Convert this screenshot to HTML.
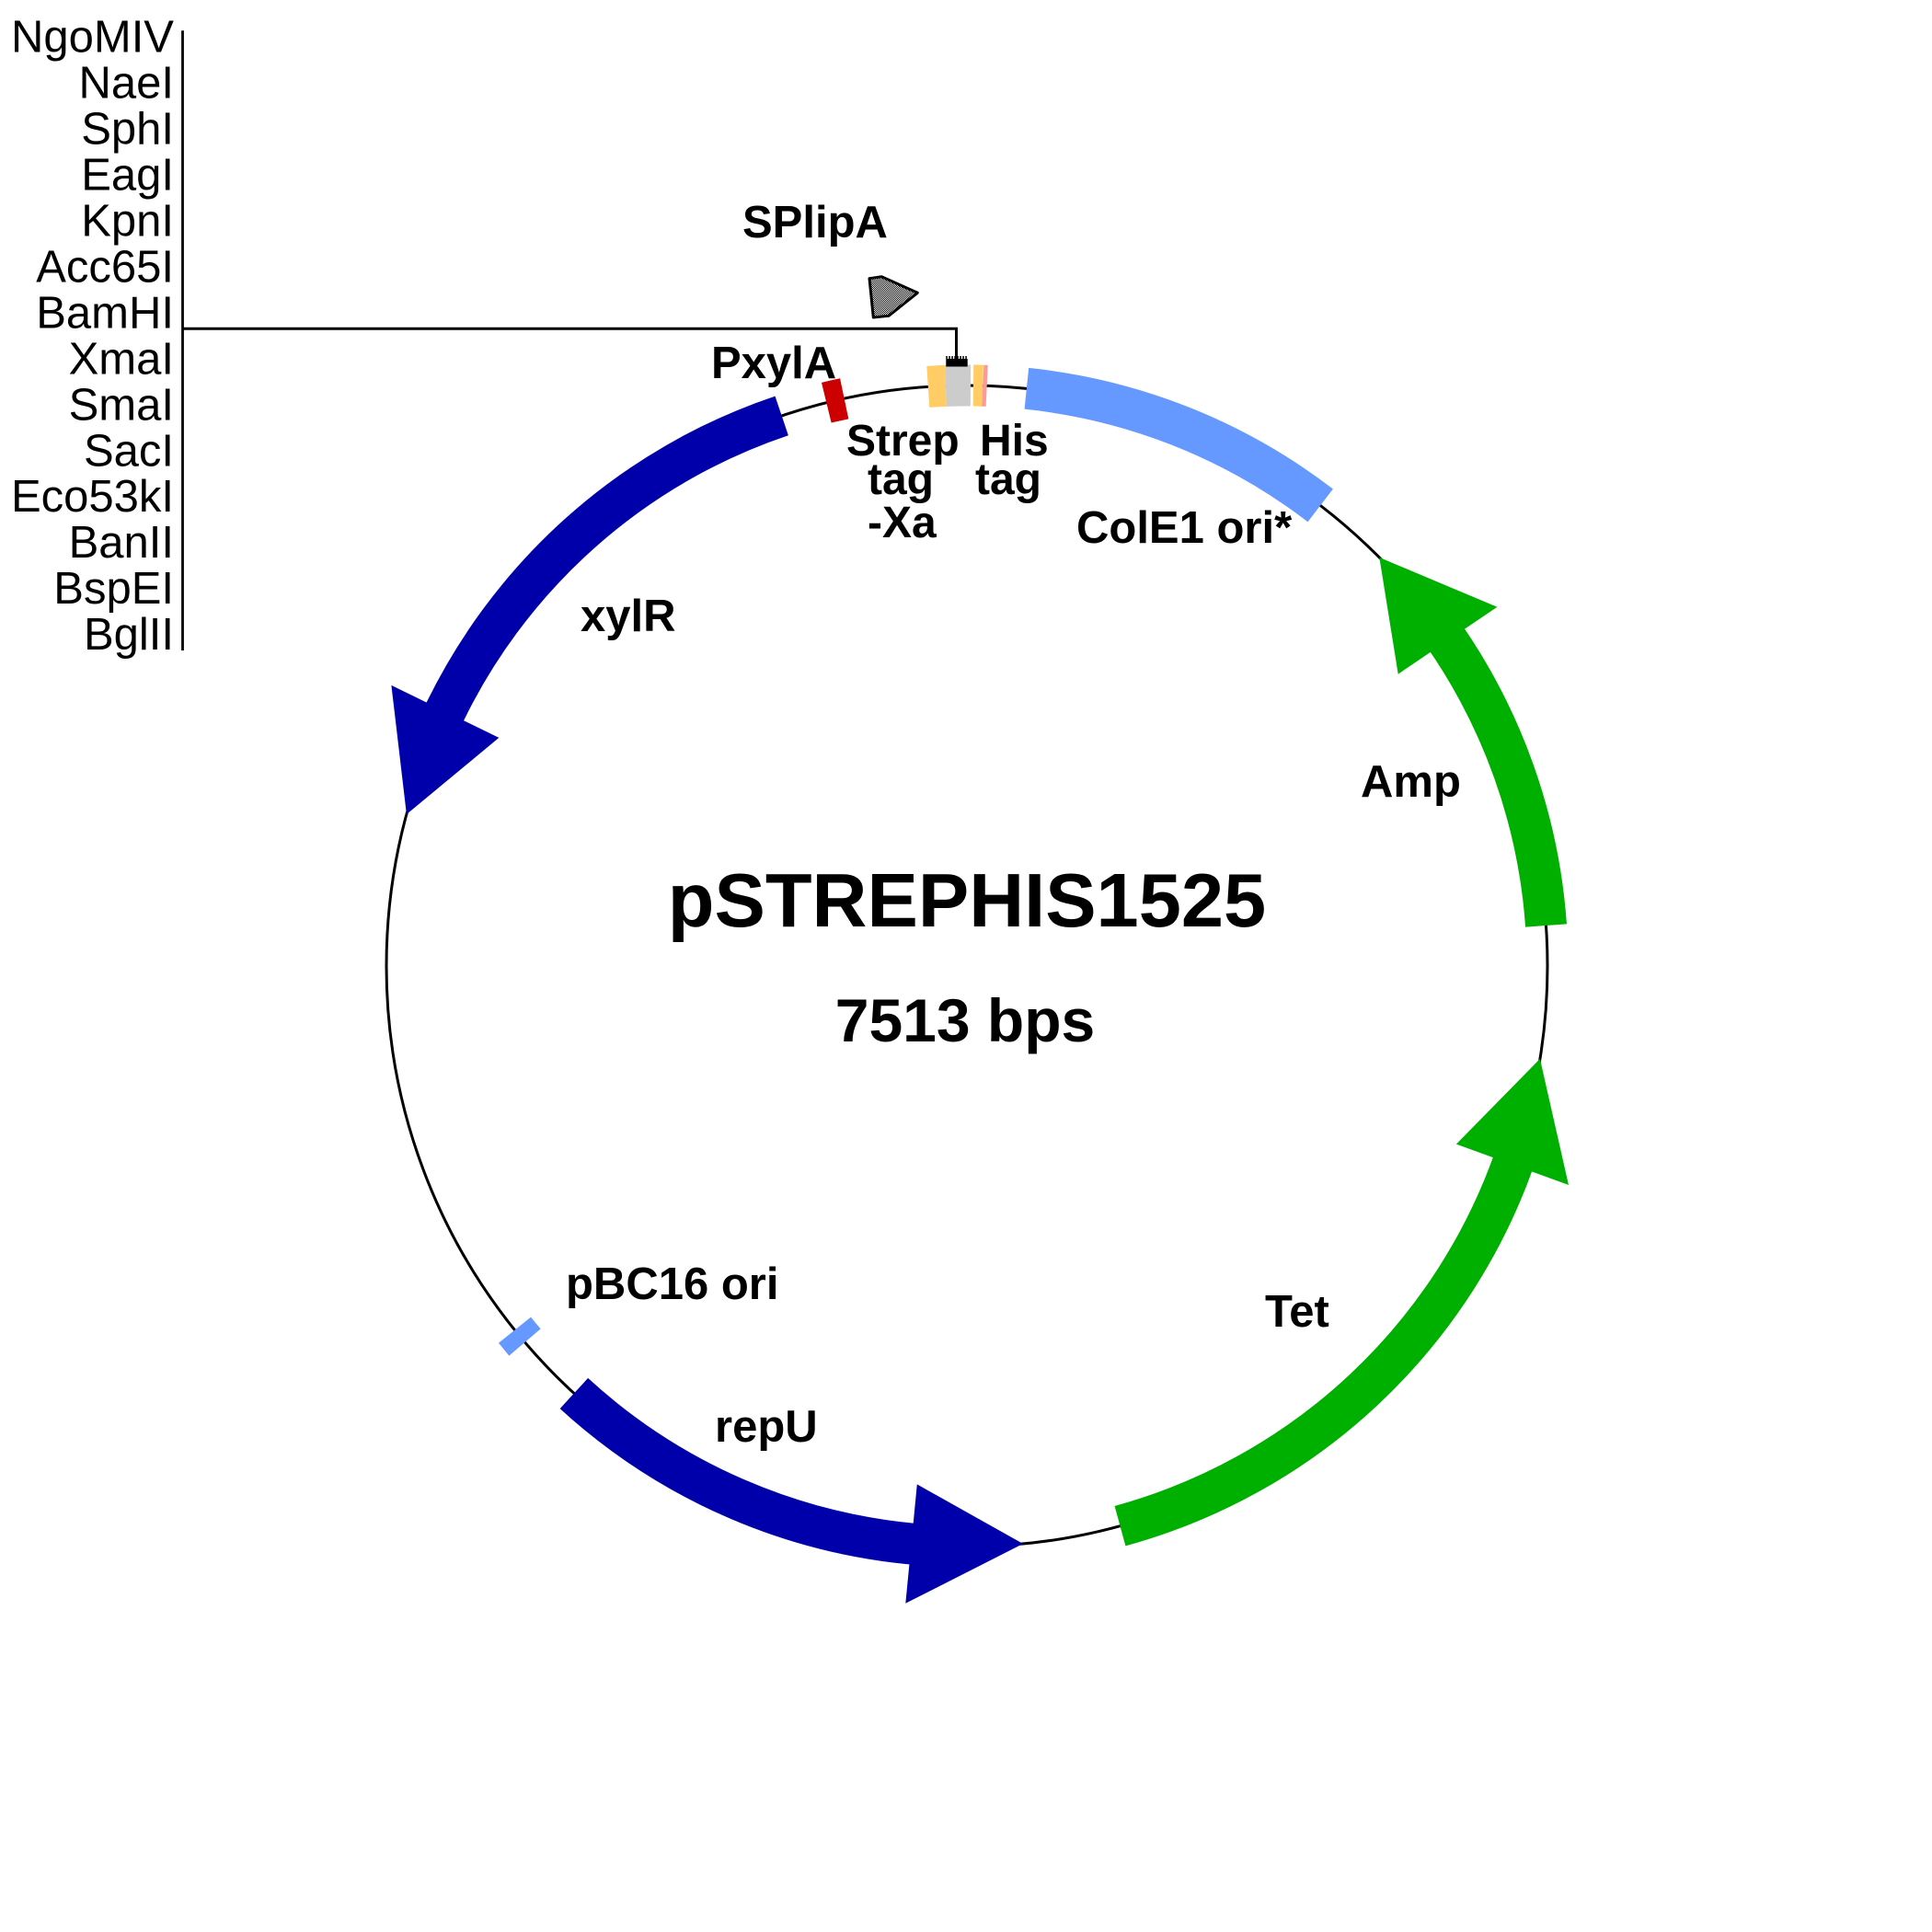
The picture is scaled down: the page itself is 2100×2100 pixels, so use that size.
<!DOCTYPE html>
<html>
<head>
<meta charset="utf-8">
<style>
  html, body { margin: 0; padding: 0; background: #ffffff; }
  svg { display: block; }
  .re { font-family: "Liberation Sans", Arial, sans-serif; font-size: 49px; fill: #000; }
  .lb { font-family: "Liberation Sans", Arial, sans-serif; font-size: 49px; font-weight: bold; fill: #000; }
  .lb48 { font-family: "Liberation Sans", Arial, sans-serif; font-size: 48px; font-weight: bold; fill: #000; }
</style>
</head>
<body>
<svg width="2100" height="2100" viewBox="0 0 2100 2100" xmlns="http://www.w3.org/2000/svg">
  <defs>
    <pattern id="chk" width="2" height="2" patternUnits="userSpaceOnUse">
      <rect x="0" y="0" width="2" height="2" fill="#ffffff"/>
      <rect x="0" y="0" width="1" height="1" fill="#000000"/>
      <rect x="1" y="1" width="1" height="1" fill="#000000"/>
    </pattern>
  </defs>
  <rect x="0" y="0" width="2100" height="2100" fill="#ffffff"/>

  <!-- backbone circle -->
  <circle cx="1051" cy="1050" r="631" fill="none" stroke="#000" stroke-width="3"/>

  <!-- ColE1 ori* -->
  <path d="M 1115.9 422.3 A 631 631 0 0 1 1435.2 549.4" fill="none" stroke="#6699FF" stroke-width="45"/>

  <!-- xylR -->
  <path d="M 849.7 451.9 A 631 631 0 0 0 479.1 783.3" fill="none" stroke="#0000AA" stroke-width="45"/>
  <polygon points="425.4,744.9 542.3,801.9 441.9,885.1" fill="#0000AA"/>

  <!-- Amp -->
  <path d="M 1680.5 1006.0 A 631 631 0 0 0 1567.2 687.2" fill="none" stroke="#00B000" stroke-width="45"/>
  <polygon points="1627.4,659.8 1519.7,732.7 1499.3,605.9" fill="#00B000"/>

  <!-- Tet -->
  <path d="M 1217.5 1658.7 A 631 631 0 0 0 1647.6 1255.5" fill="none" stroke="#00B000" stroke-width="45"/>
  <polygon points="1705.0,1288.0 1582.9,1243.6 1673.9,1150.9" fill="#00B000"/>

  <!-- repU -->
  <path d="M 623.9 1514.5 A 631 631 0 0 0 1001.5 1679.0" fill="none" stroke="#0000AA" stroke-width="45"/>
  <polygon points="984.3,1742.8 996.8,1613.4 1112.0,1678.0" fill="#0000AA"/>

  <!-- PxylA -->
  <path d="M 898.3 437.7 A 631 631 0 0 1 917.7 433.3" fill="none" stroke="#CC0000" stroke-width="45"/>

  <!-- pBC16 ori -->
  <path d="M 570.5 1459.0 A 631 631 0 0 1 559.5 1445.7" fill="none" stroke="#6699FF" stroke-width="45"/>

  <!-- Strep tag -Xa -->
  <path d="M 1008.8 420.4 A 631 631 0 0 1 1028.0 419.4" fill="none" stroke="#FFCC66" stroke-width="45"/>
  <path d="M 1028.0 419.4 A 631 631 0 0 1 1055.0 419.0" fill="none" stroke="#CCCCCC" stroke-width="45"/>

  <!-- His tag -->
  <path d="M 1058.0 419.0 A 631 631 0 0 1 1068.3 419.2" fill="none" stroke="#FFCC66" stroke-width="45"/>
  <path d="M 1068.3 419.2 A 631 631 0 0 1 1072.7 419.4" fill="none" stroke="#FF9999" stroke-width="45"/>

  <!-- restriction site marker and leader -->
  <polyline points="198.5,357.3 1039.5,357.3 1039.5,390" fill="none" stroke="#000" stroke-width="3"/>
  <rect x="1028.3" y="390" width="23.4" height="8.5" fill="#000"/>
  <line x1="1028.3" y1="388.5" x2="1051.7" y2="388.5" stroke="#000" stroke-width="3" stroke-dasharray="1.5 1.5"/>
  <line x1="198.5" y1="33.3" x2="198.5" y2="707" stroke="#000" stroke-width="2.8"/>

  <!-- SPlipA signal peptide glyph -->
  <polygon points="945,302.7 958.3,300.7 997.3,318.3 966,343.3 949.3,345" fill="url(#chk)" stroke="#000" stroke-width="3" stroke-linejoin="round"/>

  <!-- restriction enzyme list -->
  <g class="re" text-anchor="end">
    <text x="189" y="56.7">NgoMIV</text>
    <text x="189" y="106.7">NaeI</text>
    <text x="189" y="156.6">SphI</text>
    <text x="189" y="206.6">EagI</text>
    <text x="189" y="256.5">KpnI</text>
    <text x="189" y="306.5">Acc65I</text>
    <text x="189" y="356.4">BamHI</text>
    <text x="189" y="406.4">XmaI</text>
    <text x="189" y="456.3">SmaI</text>
    <text x="189" y="506.3">SacI</text>
    <text x="189" y="556.2">Eco53kI</text>
    <text x="189" y="606.2">BanII</text>
    <text x="189" y="656.1">BspEI</text>
    <text x="189" y="706.1">BglII</text>
  </g>

  <!-- feature labels -->
  <text class="lb" x="807" y="258">SPlipA</text>
  <text class="lb" x="773" y="411">PxylA</text>
  <text class="lb48" x="920" y="495">Strep</text>
  <text class="lb48" x="943" y="537">tag</text>
  <text class="lb48" x="943" y="584">-Xa</text>
  <text class="lb48" x="1065" y="495">His</text>
  <text class="lb48" x="1060" y="537">tag</text>
  <text class="lb" x="1170" y="590">ColE1 ori*</text>
  <text class="lb" x="631" y="686">xylR</text>
  <text class="lb" x="1479" y="866">Amp</text>
  <text class="lb" x="1375" y="1442">Tet</text>
  <text class="lb" x="615" y="1412">pBC16 ori</text>
  <text class="lb" x="777" y="1567">repU</text>

  <!-- title -->
  <text x="1051" y="1007" text-anchor="middle" font-family="Liberation Sans, Arial, sans-serif" font-size="83" font-weight="bold" fill="#000">pSTREPHIS1525</text>
  <text x="1049" y="1132" text-anchor="middle" font-family="Liberation Sans, Arial, sans-serif" font-size="66" font-weight="bold" fill="#000">7513 bps</text>
</svg>
</body>
</html>
